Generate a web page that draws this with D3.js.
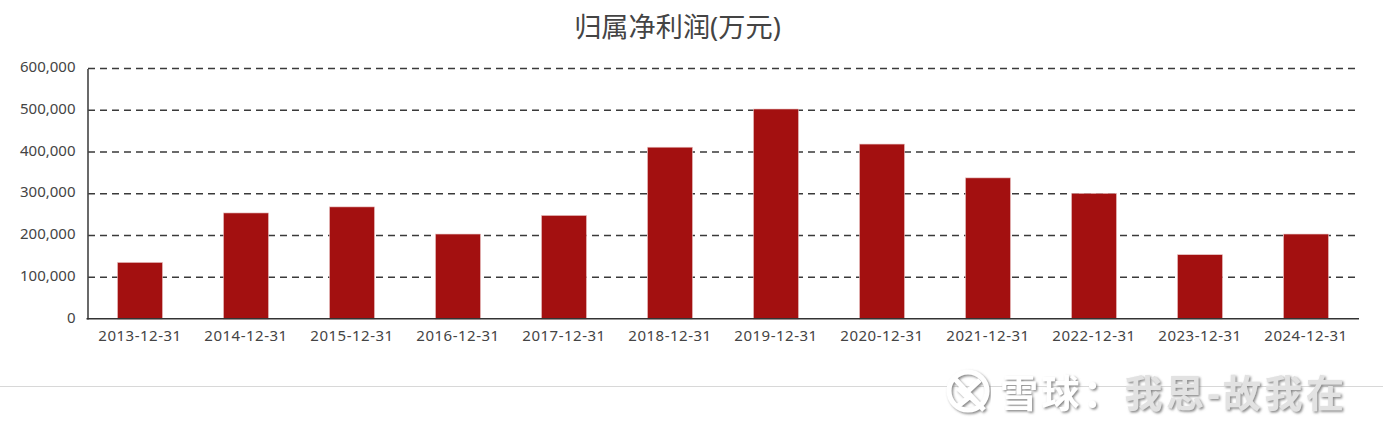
<!DOCTYPE html>
<html><head><meta charset="utf-8">
<script src="https://cdnjs.cloudflare.com/ajax/libs/d3/7.8.5/d3.min.js"></script>
<style>
html,body{margin:0;padding:0;background:#fff;overflow:hidden}
svg{display:block}
text{font-family:"Noto Sans","Noto Sans CJK SC",sans-serif}
</style></head><body>
<svg id="c" width="1383" height="435"></svg>
<script>
const categories=["2013-12-31","2014-12-31","2015-12-31","2016-12-31","2017-12-31","2018-12-31","2019-12-31","2020-12-31","2021-12-31","2022-12-31","2023-12-31","2024-12-31"];
const profit=[135500,254000,268500,203500,248000,411500,503000,419000,338000,301000,154000,203500];
const yTicks=[0,100000,200000,300000,400000,500000,600000];
const titleText="归属净利润(万元)";
const watermarkHead="雪球：";
const watermarkTail="我思-故我在";

const svg=d3.select("#c");
const x=d3.scaleBand().domain(categories).range([87,1359]).paddingInner(0.5755).paddingOuter(0.28775);
const y=d3.scaleLinear().domain([0,600000]).range([319,68.5]);
const fmt=d3.format(",");

// gridlines
svg.append("g").selectAll("line").data(yTicks.slice(1)).join("line")
  .attr("x1",88).attr("x2",1355).attr("y1",d=>y(d)).attr("y2",d=>y(d))
  .attr("stroke","#3a3a3a").attr("stroke-width",1.3).attr("stroke-dasharray","7 5");

// bars
svg.append("g").selectAll("rect").data(profit).join("rect")
  .attr("x",(d,i)=>x(categories[i])).attr("width",x.bandwidth())
  .attr("y",d=>y(d)).attr("height",d=>y(0)-y(d))
  .attr("fill","#a31010").attr("stroke","#e8c4c4").attr("stroke-width",0.6);

// axes
const yAxis=d3.axisLeft(y).tickValues(yTicks).tickFormat(fmt).tickSize(0).tickPadding(12);
const gy=svg.append("g").attr("transform","translate(87.5,0)").call(yAxis);
gy.select(".domain").attr("stroke","#444").attr("stroke-width",1.6);
gy.selectAll("text").attr("font-size",15).attr("fill","#444");
gy.selectAll(".tick text").attr("dy","0.2em");

const xAxis=d3.axisBottom(d3.scaleBand().domain(categories).range([87,1359])).tickSize(0).tickPadding(12);
const gx=svg.append("g").attr("transform","translate(0,318.5)").call(xAxis);
gx.select(".domain").remove();
svg.append("line").attr("x1",86.5).attr("x2",1359).attr("y1",318.8).attr("y2",318.8).attr("stroke","#333").attr("stroke-width",1.6);
gx.selectAll("text").attr("font-size",15).attr("fill","#444").attr("letter-spacing","0.5px");

// title
svg.append("text").attr("x",677.5).attr("y",37).attr("text-anchor","middle")
  .attr("font-size",27.2).attr("fill","#444").text(titleText);

// separator
svg.append("line").attr("x1",0).attr("x2",1383).attr("y1",386.5).attr("y2",386.5)
  .attr("stroke","#d8d8d8");

// watermark
const wm=svg.append("g");
const filt=svg.append("defs").append("filter").attr("id","sh").attr("x","-10%").attr("y","-20%").attr("width","120%").attr("height","150%");
filt.append("feDropShadow").attr("dx",1.5).attr("dy",1.5).attr("stdDeviation",1).attr("flood-color","#888");
const logo=wm.append("g").attr("filter","url(#sh)");
logo.append("circle").attr("cx",968).attr("cy",391).attr("r",19).attr("fill","none").attr("stroke","#fff").attr("stroke-width",5);
logo.append("path").attr("d","M954 378L984 410M980 380L966 393L978 404M958 388L968 398L958 406").attr("fill","none").attr("stroke","#fff").attr("stroke-width",5);
const wmText=wm.append("text").attr("x",1000).attr("y",407).attr("font-size",38).attr("font-weight",700)
  .attr("filter","url(#sh)").attr("textLength",344);
wmText.append("tspan").attr("fill","#fff").text(watermarkHead);
wmText.append("tspan").attr("fill","#e2e2e2").text(watermarkTail);
</script>
</body></html>
